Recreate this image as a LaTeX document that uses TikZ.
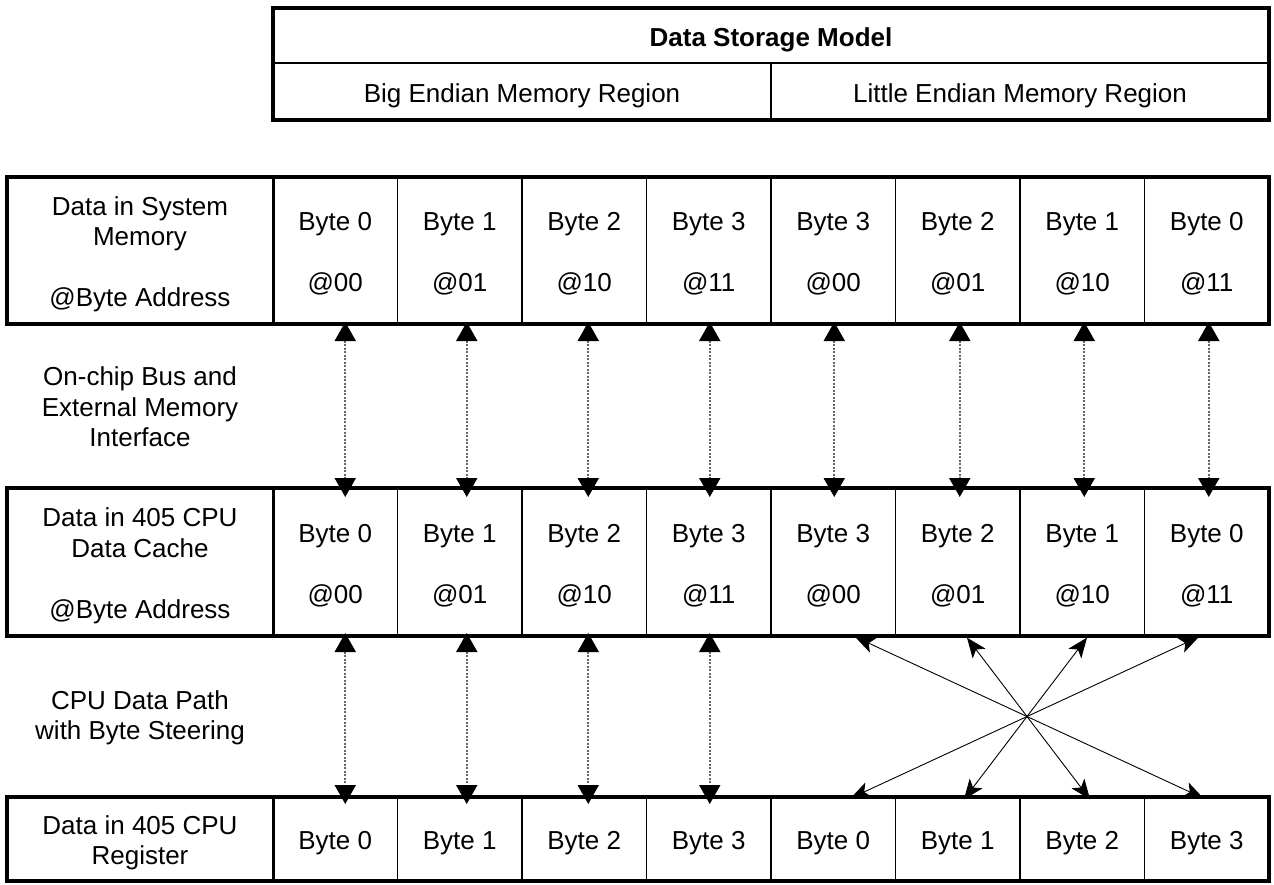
\documentclass[tikz,border=0pt]{standalone}
\usepackage{fontspec}
\setmainfont{Liberation Sans}
\usetikzlibrary{arrows.meta,calc}
\newcommand{\fs}{\fontsize{26}{30.5}\selectfont}
\begin{document}
\begin{tikzpicture}[x=1pt,y=-1pt,
  cell/.style={draw, line width=1.8pt, anchor=north west, inner sep=0pt, outer sep=0pt, align=center, font=\fs, minimum width=124.5pt, text depth=-0.65pt},
  lcell/.style={cell, minimum width=266pt},
  hcell/.style={cell, line width=2.4pt},
  frame/.style={line width=4pt},
  varrow/.style={draw=black!60, line width=2pt, dash pattern=on 2pt off 1.5pt,
    {Triangle[width=21pt,length=19pt,black]}-{Triangle[width=21pt,length=19pt,black]}},
  xarrow/.style={draw=black, line width=0.9pt,
    {Stealth[width=16pt,length=20pt,inset=5pt]}-{Stealth[width=16pt,length=20pt,inset=5pt]}},
  lbl/.style={align=center, font=\fs, inner sep=0pt}]
\useasboundingbox (0,0) rectangle (1274,884);

% header table
\node[hcell, minimum width=996pt, minimum height=55pt, font=\fs\bfseries] (hd) at (273,8) {\strut Data Storage Model};
\node[hcell, minimum width=498pt, minimum height=57pt] (be) at (273,63) {\strut Big Endian Memory Region};
\node[hcell, minimum width=498pt, minimum height=57pt] (le) at (771,63) {\strut Little Endian Memory Region};
\draw[frame] (hd.north west) rectangle (le.south east);

% row 1: system memory
\node[lcell, minimum height=147pt] (r1l) at (7,177) {\strut Data in System\\Memory\\[30.5pt]@Byte Address};
\foreach \i/\b/\a in {1/0/00,2/1/01,3/2/10,4/3/11,5/3/00,6/2/01,7/1/10,8/0/11}
  \node[cell, minimum height=147pt] (r1c\i) at ({273+124.5*(\i-1)},177) {\strut Byte \b\\[30.5pt]@\a};
\draw[frame] (r1l.north west) rectangle (r1c8.south east);
\draw[line width=3pt] (r1l.north east) -- (r1l.south east);

% row 2: data cache
\node[lcell, minimum height=148pt] (r2l) at (7,488) {\strut Data in 405 CPU\\Data Cache\\[30.5pt]@Byte Address};
\foreach \i/\b/\a in {1/0/00,2/1/01,3/2/10,4/3/11,5/3/00,6/2/01,7/1/10,8/0/11}
  \node[cell, minimum height=148pt] (r2c\i) at ({273+124.5*(\i-1)},488) {\strut Byte \b\\[30.5pt]@\a};
\draw[frame] (r2l.north west) rectangle (r2c8.south east);
\draw[line width=3pt] (r2l.north east) -- (r2l.south east);

% row 3: register
\node[lcell, minimum height=84pt] (r3l) at (7,797) {\strut Data in 405 CPU\\Register};
\foreach \i/\b in {1/0,2/1,3/2,4/3,5/0,6/1,7/2,8/3}
  \node[cell, minimum height=84pt] (r3c\i) at ({273+124.5*(\i-1)},797) {\strut Byte \b};
\draw[frame] (r3l.north west) rectangle (r3c8.south east);
\draw[line width=3pt] (r3l.north east) -- (r3l.south east);

% gap labels
\node[lbl] (g1) at (140,407) {On-chip Bus and\\External Memory\\Interface};
\node[lbl] (g2) at (140,718) {CPU Data Path\\with Byte Steering};

% vertical arrows memory <-> cache
\foreach \i/\o in {1/10,2/7,3/4,4/1,5/1,6/2,7/2,8/2}
  \draw[varrow, shorten <=-2pt, shorten >=-9pt] ([xshift=\o pt]r1c\i.south) -- ([xshift=\o pt]r2c\i.north);

% vertical arrows cache <-> register (big endian)
\foreach \i/\o in {1/10,2/7,3/4,4/1}
  \draw[varrow, shorten <=-3pt, shorten >=-7pt] ([xshift=\o pt]r2c\i.south) -- ([xshift=\o pt]r3c\i.north);

% byte steering (little endian)
\draw[xarrow, shorten <=2pt, shorten >=-3pt] ([xshift=20pt]r2c5.south) -- ([xshift=-6pt]r3c8.north);
\draw[xarrow, shorten <=2pt, shorten >=-3pt] ([xshift=8pt]r2c6.south) -- ([xshift=6pt]r3c7.north);
\draw[xarrow, shorten <=2pt, shorten >=-3pt] ([xshift=6pt]r2c7.south) -- ([xshift=8pt]r3c6.north);
\draw[xarrow, shorten <=2pt, shorten >=-3pt] ([xshift=-6pt]r2c8.south) -- ([xshift=20pt]r3c5.north);
\end{tikzpicture}
\end{document}
